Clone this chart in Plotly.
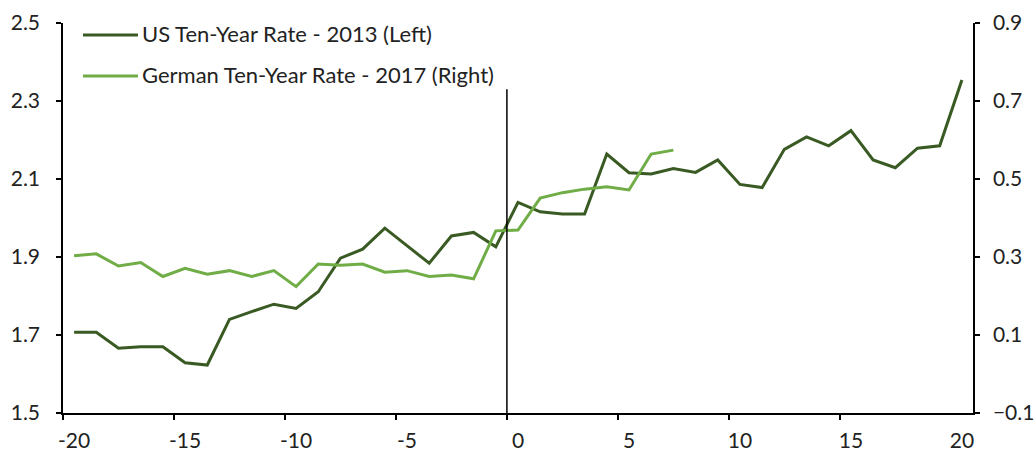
import plotly.graph_objects as go

days = list(range(-20, 21))
us_2013 = [1.707, 1.707, 1.666, 1.670, 1.670, 1.629, 1.623, 1.740, 1.760, 1.779,
           1.768, 1.811, 1.897, 1.920, 1.974, 1.928, 1.884, 1.954, 1.963, 1.926,
           2.040, 2.016, 2.010, 2.010, 2.164, 2.116, 2.113, 2.127, 2.117, 2.149,
           2.086, 2.078, 2.176, 2.208, 2.185, 2.224, 2.149, 2.129, 2.179, 2.185,
           2.354]
de_2017 = [0.303, 0.308, 0.277, 0.286, 0.250, 0.271, 0.256, 0.265, 0.250, 0.265,
           0.224, 0.282, 0.279, 0.282, 0.261, 0.265, 0.250, 0.254, 0.244, 0.367,
           0.369, 0.451, 0.465, 0.474, 0.480, 0.472, 0.564, 0.574] + [None] * 13

series_names = ["US Ten-Year Rate - 2013 (Left)", "German Ten-Year Rate - 2017 (Right)"]
x_ticks = [-20, -15, -10, -5, 0, 5, 10, 15, 20]
x_tick_text = ["-20", "-15", "-10", "-5", "0", "5", "10", "15", "20"]
left_ticks = [1.5, 1.7, 1.9, 2.1, 2.3, 2.5]
right_ticks = [-0.1, 0.1, 0.3, 0.5, 0.7, 0.9]

US_COLOR = "#3a5a24"
DE_COLOR = "#70ad47"
FONT = "Lato"
TXT = "#222222"

fig = go.Figure()
fig.add_trace(go.Scatter(x=days, y=us_2013, mode="lines", name=series_names[0],
                         line=dict(color=US_COLOR, width=3), showlegend=False))
fig.add_trace(go.Scatter(x=days, y=de_2017, mode="lines", name=series_names[1],
                         line=dict(color=DE_COLOR, width=3), yaxis="y2", showlegend=False,
                         connectgaps=False))

# event marker at day 0 boundary
fig.add_shape(type="line", xref="x", yref="y", x0=-0.5, x1=-0.5, y0=1.5, y1=2.33,
              line=dict(color="black", width=1.5))

# legend keys (drawn like the original's legend: long line + label)
for name, color, ly, ty in [(series_names[0], US_COLOR, 0.969, 0.972),
                            (series_names[1], DE_COLOR, 0.864, 0.869)]:
    fig.add_shape(type="line", xref="paper", yref="paper", x0=0.022, x1=0.0824, y0=ly, y1=ly,
                  line=dict(color=color, width=3))
    fig.add_annotation(xref="paper", yref="paper", x=0.0845, y=ty, text=name, showarrow=False,
                       xanchor="left", yanchor="middle",
                       font=dict(family=FONT, size=22, color=TXT))

tickfont = dict(family=FONT, size=21, color=TXT)
fig.update_layout(
    width=1036, height=452,
    margin=dict(l=63, r=63, t=23, b=39, autoexpand=False),
    paper_bgcolor="white", plot_bgcolor="white",
    font=dict(family=FONT, size=21, color=TXT),
    showlegend=False,
    xaxis=dict(range=[-20.5, 20.5], tickvals=x_ticks, ticktext=x_tick_text, ticks="",
               showline=True, linecolor="black", linewidth=1.5, showgrid=False, zeroline=False,
               tickfont=tickfont, ticklabelstandoff=8, automargin=False,
               minor=dict(tickvals=[t - 0.5 for t in x_ticks[:-1]], ticks="outside",
                          ticklen=5, tickcolor="black", tickwidth=1.5, showgrid=False)),
    yaxis=dict(range=[1.5, 2.5], tickvals=left_ticks, tickformat=".1f", ticks="outside",
               ticklen=5, tickcolor="black", tickwidth=1.5, showline=True, linecolor="black",
               linewidth=1.5, showgrid=False, zeroline=False, tickfont=tickfont,
               ticklabelstandoff=12, automargin=False),
    yaxis2=dict(range=[-0.1, 0.9], tickvals=right_ticks, tickformat=".1f", ticks="outside",
                ticklen=5, tickcolor="black", tickwidth=1.5, showline=True, linecolor="black",
                linewidth=1.5, showgrid=False, zeroline=False, overlaying="y", side="right",
                tickfont=tickfont, ticklabelstandoff=9, automargin=False),
)

# remove the browser's default 8px body margin so the figure fills the window exactly
fig.write_html("out.html", config={"displayModeBar": False},
               post_script="document.body.style.margin='0';")
